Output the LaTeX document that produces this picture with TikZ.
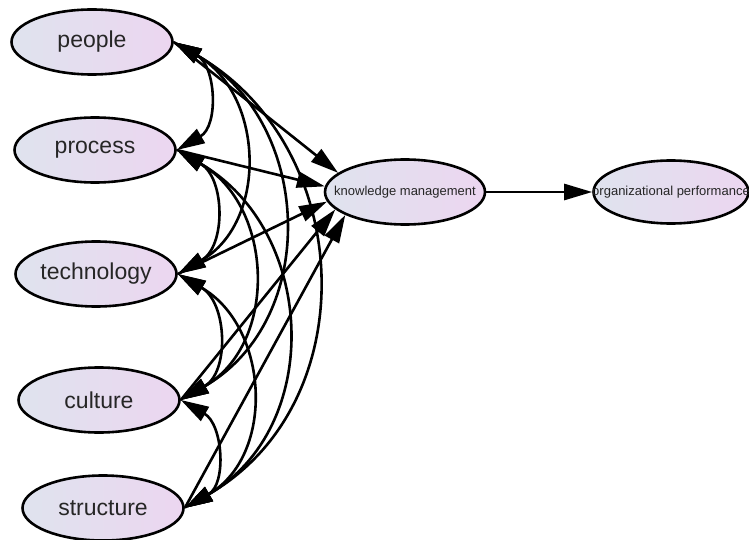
\documentclass[tikz,border=0pt]{standalone}
\usepackage{fontspec}
\setmainfont{Liberation Sans}
\usetikzlibrary{arrows.meta,shapes.geometric}
\definecolor{varblue}{HTML}{DFE3EE}
\definecolor{varpink}{HTML}{ECD6F0}
\definecolor{txtgray}{HTML}{262626}

\begin{document}
\begin{tikzpicture}[x=1pt, y=-1pt,
  var/.style={ellipse, draw=black, line width=2.6pt, left color=varblue, right color=varpink,
    minimum width=161pt, minimum height=65pt, inner sep=0pt, text=txtgray,
    font=\fontsize{23}{26}\selectfont},
  small text/.style={text=txtgray, font=\fontsize{13}{15}\selectfont},
  reg/.style={-{Triangle[length=28pt,width=16pt]}, line width=2.6pt},
  cov/.style={{Triangle[length=28pt,width=16pt]}-{Triangle[length=28pt,width=16pt]}, line width=2.6pt},
  bow/.style={out=-30, in=30, looseness=1.15},
]
\useasboundingbox (0,0) rectangle (749,540);

% ===== exogenous variables =====
\node[var] (people)  at (92,42)   {people};
\node[var] (process) at (95,150)  {process};
\node[var] (tech)    at (96,274)  {technology};
\node[var] (culture) at (99,400)  {culture};
\node[var] (struct)  at (103,508) {structure};

% ===== mediator and outcome =====
\node[var, minimum width=160pt, label={[small text]center:knowledge management}] (km) at (405,192) {};
\node[var, minimum width=155pt, minimum height=63pt,
  label={[small text]center:organizational performance}] (perf) at (671,192) {};

% covariances
\draw[cov] (people.east)  to[bow] (process.east);
\draw[cov] (people.east)  to[bow] (tech.east);
\draw[cov] (people.east)  to[bow] (culture.east);
\draw[cov] (people.east)  to[bow] (struct.east);
\draw[cov] (process.east) to[bow] (tech.east);
\draw[cov] (process.east) to[bow] (culture.east);
\draw[cov] (process.east) to[bow] (struct.east);
\draw[cov] (tech.east)    to[bow] (culture.east);
\draw[cov] (tech.east)    to[bow] (struct.east);
\draw[cov] (culture.east) to[bow] (struct.east);

% regression paths
\draw[reg] (people.east)  -- (km.164);
\draw[reg] (process.east) -- (km.176);
\draw[reg] (tech.east)    -- (km.187);
\draw[reg] (culture.east) -- (km.194);
\draw[reg] (struct.east)  -- (km.201);
\draw[reg] (km) -- (perf);

\end{tikzpicture}
\end{document}
